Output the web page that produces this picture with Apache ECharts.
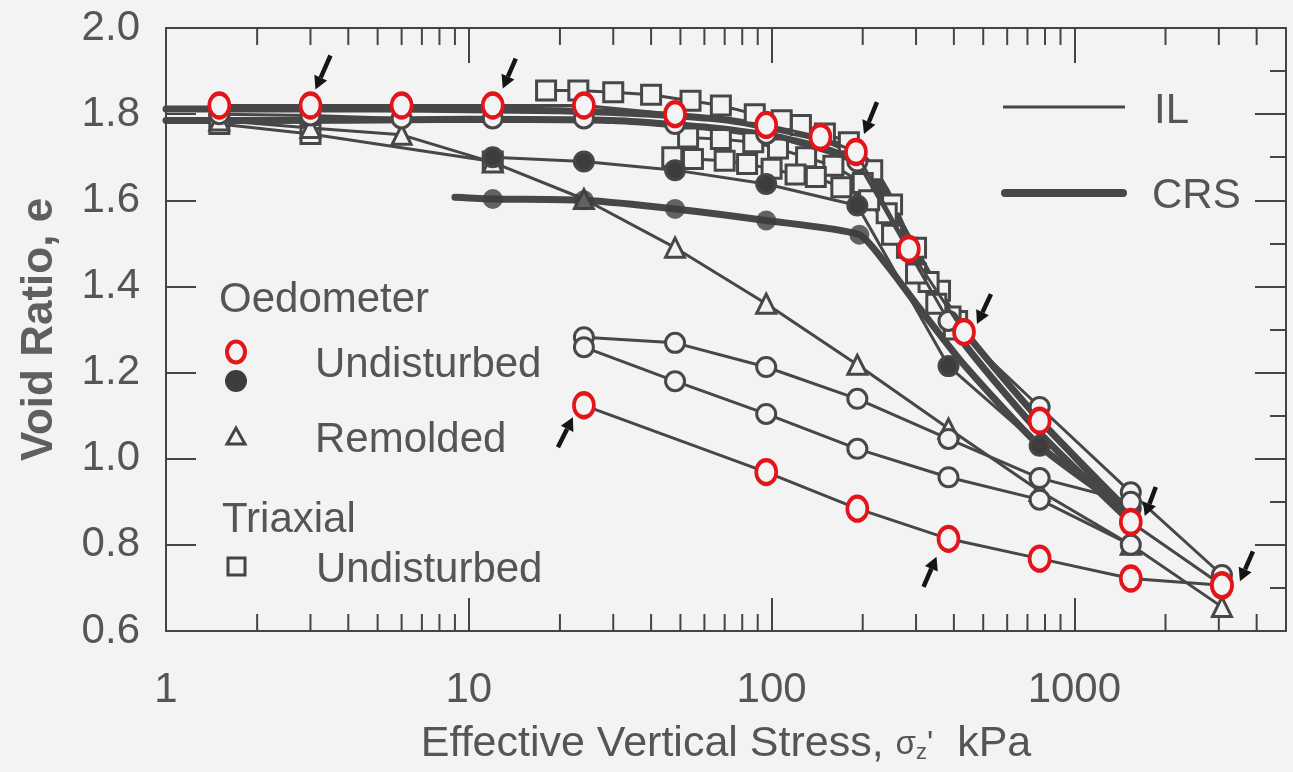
<!DOCTYPE html>
<html>
<head>
<meta charset="utf-8">
<title>Void ratio vs effective vertical stress</title>
<script src="https://cdn.jsdelivr.net/npm/echarts@6.0.0/dist/echarts.min.js"></script>
<style>
  html, body { margin: 0; padding: 0; background: #f3f3f3; }
  #chart { width: 1293px; height: 772px; }
</style>
</head>
<body>
<div id="chart"></div>
<script>
// ---- data (stress in kPa, void ratio e) ----
// Oedometer IL, undisturbed, highlighted (red) points
const ilRedStress = [1.5, 3, 6, 12, 24, 48, 96, 145, 190, 284, 432, 768, 1536, 3072]
const ilRedVoid = [1.82, 1.82, 1.82, 1.82, 1.82, 1.80, 1.775, 1.747, 1.712, 1.487, 1.294, 1.088, 0.853, 0.706]

// Oedometer IL, undisturbed, open circles
const ilOpenStress = [1.5, 3, 6, 12, 24, 48, 96, 192, 384, 768, 1536, 3072]
const ilOpenVoid = [1.80, 1.797, 1.79, 1.79, 1.79, 1.777, 1.754, 1.69, 1.32, 1.12, 0.922, 0.73]

// Oedometer IL, undisturbed, filled circles
const ilFillStress = [12, 24, 48, 96, 192, 384, 768, 1536]
const ilFillVoid = [1.70, 1.69, 1.67, 1.638, 1.588, 1.215, 1.03, 0.885]

// lower IL tests (open circles) and highlighted lower test
const ilLowAStress = [24, 48, 96, 192, 384, 768, 1536]
const ilLowAVoid = [1.282, 1.269, 1.213, 1.139, 1.046, 0.955, 0.90]
const ilLowBStress = [24, 48, 96, 192, 384, 768, 1536]
const ilLowBVoid = [1.259, 1.18, 1.104, 1.023, 0.957, 0.905, 0.80]
const ilRedLowStress = [24, 96, 192, 384, 768, 1536, 3072]
const ilRedLowVoid = [1.124, 0.969, 0.884, 0.814, 0.768, 0.722, 0.706]

// Oedometer IL, remolded
const remStress = [1.5, 3, 6, 12, 24, 48, 96, 192, 384, 768, 1536, 3072]
const remVoid = [1.785, 1.768, 1.752, 1.688, 1.603, 1.49, 1.36, 1.218, 1.07, 0.925, 0.80, 0.656]

// CRS tests (thick lines)
const crsTopStress = [1, 5, 10, 20, 40, 70, 100, 150, 200, 240, 290, 430, 768, 1500]
const crsTopVoid = [1.812, 1.812, 1.81, 1.808, 1.80, 1.787, 1.768, 1.74, 1.70, 1.62, 1.49, 1.30, 1.09, 0.88]
const crsMidStress = [1, 4, 10, 30, 60, 100, 150, 200, 240, 290, 430, 768, 1500]
const crsMidVoid = [1.785, 1.786, 1.788, 1.785, 1.77, 1.75, 1.72, 1.68, 1.60, 1.47, 1.27, 1.06, 0.86]
const crsLowStress = [9, 12, 24, 48, 96, 195, 240, 300, 430, 768, 1500]
const crsLowVoid = [1.607, 1.603, 1.60, 1.58, 1.553, 1.52, 1.45, 1.36, 1.22, 1.03, 0.88]
const crsLowPtStress = [12, 24, 48, 96, 195]
const crsLowPtVoid = [1.603, 1.60, 1.58, 1.553, 1.52]

// Triaxial, undisturbed (squares)
const triLowStress = [1.5, 3, 12]
const triLowVoid = [1.777, 1.754, 1.69]
const triAStress = [18, 23, 30, 40, 54, 68, 88, 108, 125, 150, 180, 215, 250, 300, 360, 410]
const triAVoid = [1.855, 1.855, 1.851, 1.845, 1.831, 1.82, 1.80, 1.786, 1.775, 1.755, 1.735, 1.67, 1.59, 1.49, 1.39, 1.32]
const triBStress = [53, 68, 87, 105, 130, 160, 200, 240, 280, 330, 390]
const triBVoid = [1.746, 1.742, 1.735, 1.72, 1.70, 1.68, 1.64, 1.57, 1.49, 1.41, 1.33]
const triCStress = [47, 55, 70, 83, 100, 120, 140, 170, 210, 250, 300, 350, 400]
const triCVoid = [1.70, 1.696, 1.692, 1.684, 1.673, 1.66, 1.654, 1.63, 1.60, 1.52, 1.43, 1.36, 1.30]

// axis ticks
const minorTicks = [2, 3, 4, 5, 6, 7, 8, 9, 20, 30, 40, 50, 60, 70, 80, 90,
  200, 300, 400, 500, 600, 700, 800, 900, 2000, 3000, 4000]

const FONT = 'Liberation Sans, Arial, Helvetica, sans-serif'
const BG = '#f3f3f3'
const AX = '#444'
const LINE = '#474747'
const TXT = '#555'
const RED = '#e3151b'

const pts = (xs, ys) => xs.map((x, i) => [x, ys[i]])

const symStyle = (fill) => ({ color: fill, borderColor: LINE, borderWidth: 3 })

function ilLine(name, xs, ys, symbol, fill, z) {
  return {
    name, type: 'line', data: pts(xs, ys), z: z || 3,
    symbol: symbol, symbolSize: symbol === 'none' ? 0 : 19,
    showSymbol: symbol !== 'none',
    lineStyle: { color: LINE, width: 3 },
    itemStyle: symStyle(fill)
  }
}

function crsLine(name, xs, ys) {
  return {
    name, type: 'line', data: pts(xs, ys), z: 2,
    showSymbol: false, smooth: 0.2,
    lineStyle: { color: LINE, width: 7, cap: 'round' }
  }
}

const chart = echarts.init(document.getElementById('chart'))

const option = {
  animation: false,
  backgroundColor: BG,
  textStyle: { fontFamily: FONT },
  grid: { left: 166, right: 7, top: 28, bottom: 141, containLabel: false, outerBoundsMode: 'none' },
  xAxis: [
    {
      type: 'log', logBase: 10, min: 1, max: 5000, position: 'bottom',
      axisLine: { show: true, lineStyle: { color: AX, width: 2 } },
      axisTick: { inside: true, length: 33, lineStyle: { color: AX, width: 2 } },
      axisLabel: { fontSize: 42, color: TXT, margin: 38, fontFamily: FONT, showMaxLabel: false,
        formatter: v => String(Math.round(v)) },
      splitLine: { show: false },
      name: "{a|Effective Vertical Stress, }{g|σ}{z|z}{g|'}{a|  kPa}",
      nameLocation: 'middle', nameGap: 92,
      nameTextStyle: {
        fontFamily: FONT,
        rich: {
          a: { fontSize: 43, color: TXT, fontFamily: FONT },
          g: { fontSize: 33, color: TXT, fontFamily: FONT },
          z: { fontSize: 22, color: TXT, fontFamily: FONT, padding: [16, 0, 0, 0] }
        }
      }
    },
    {
      type: 'log', logBase: 10, min: 1, max: 5000, position: 'top',
      axisLine: { show: true, lineStyle: { color: AX, width: 2 } },
      axisTick: { inside: true, length: 35, lineStyle: { color: AX, width: 2 } },
      axisLabel: { show: false },
      splitLine: { show: false }
    }
  ],
  yAxis: [
    {
      type: 'value', min: 0.6, max: 2.0, interval: 0.2, position: 'left',
      axisLine: { show: true, lineStyle: { color: AX, width: 2 } },
      axisTick: { inside: true, length: 30, lineStyle: { color: AX, width: 2 } },
      axisLabel: { fontSize: 42, color: TXT, margin: 26, fontFamily: FONT,
        formatter: v => v.toFixed(1) },
      splitLine: { show: false },
      name: 'Void Ratio, e', nameLocation: 'middle', nameGap: 104,
      nameTextStyle: { fontSize: 44, color: '#5f5f5f', fontFamily: FONT, fontWeight: 'bold' }
    },
    {
      type: 'value', min: 0.6, max: 2.0, interval: 0.1, position: 'right',
      axisLine: { show: true, lineStyle: { color: AX, width: 2 } },
      axisTick: { inside: true, length: 16, lineStyle: { color: AX, width: 2 } },
      axisLabel: { show: false }, splitLine: { show: false }
    },
    {
      type: 'value', min: 0.6, max: 2.0, interval: 0.2, position: 'right',
      axisLine: { show: false },
      axisTick: { inside: true, length: 31, lineStyle: { color: AX, width: 2 } },
      axisLabel: { show: false }, splitLine: { show: false }
    }
  ],
  series: [
    {
      name: 'minor ticks', type: 'custom', silent: true, z: 1,
      data: minorTicks.map(v => [v, 0.6]),
      encode: { x: 0, y: 1 },
      renderItem: (params, api) => {
        const v = api.value(0)
        const b = api.coord([v, 0.6])
        const t = api.coord([v, 2.0])
        const st = { stroke: AX, lineWidth: 2 }
        return {
          type: 'group',
          children: [
            { type: 'line', shape: { x1: b[0], y1: b[1], x2: b[0], y2: b[1] - 17 }, style: st },
            { type: 'line', shape: { x1: t[0], y1: t[1], x2: t[0], y2: t[1] + 17 }, style: st }
          ]
        }
      }
    },
    crsLine('CRS top', crsTopStress, crsTopVoid),
    crsLine('CRS mid', crsMidStress, crsMidVoid),
    crsLine('CRS low', crsLowStress, crsLowVoid),
    ilLine('Triaxial low', triLowStress, triLowVoid, 'rect', BG),
    ilLine('Triaxial A', triAStress, triAVoid, 'rect', BG),
    ilLine('Triaxial B', triBStress, triBVoid, 'rect', BG),
    ilLine('Triaxial C', triCStress, triCVoid, 'rect', BG),
    ilLine('Remolded', remStress, remVoid, 'triangle', BG, 4),
    ilLine('IL filled', ilFillStress, ilFillVoid, 'circle', '#3d3d3d', 4),
    {
      name: 'CRS points', type: 'scatter', z: 4, data: pts(crsLowPtStress, crsLowPtVoid),
      symbol: 'circle', symbolSize: 20, itemStyle: { color: '#3d3d3d' }
    },
    ilLine('IL open', ilOpenStress, ilOpenVoid, 'circle', BG, 4),
    ilLine('IL low A', ilLowAStress, ilLowAVoid, 'circle', BG, 4),
    ilLine('IL low B', ilLowBStress, ilLowBVoid, 'circle', BG, 4),
    {
      name: 'IL red low', type: 'line', z: 6, data: pts(ilRedLowStress, ilRedLowVoid),
      symbol: 'circle', symbolSize: [20, 24],
      lineStyle: { color: LINE, width: 3 },
      itemStyle: { color: BG, borderColor: RED, borderWidth: 4 }
    },
    {
      name: 'IL red', type: 'line', z: 7, data: pts(ilRedStress, ilRedVoid),
      symbol: 'circle', symbolSize: [20, 24],
      lineStyle: { color: LINE, width: 3 },
      itemStyle: { color: BG, borderColor: RED, borderWidth: 4 }
    }
  ]
}

chart.setOption(option)

// in-plot legend
const txt = (text, x, y) => ({
  type: 'text', z: 20,
  style: { text, x, y, fill: TXT, fontSize: 42, fontFamily: FONT, verticalAlign: 'middle', align: 'left' }
})
const legendEls = [
  txt('Oedometer', 219, 300),
  { type: 'ellipse', z: 20, shape: { cx: 236, cy: 352, rx: 9, ry: 10.5 }, style: { fill: BG, stroke: RED, lineWidth: 4 } },
  { type: 'circle', z: 20, shape: { cx: 236, cy: 381, r: 11 }, style: { fill: '#3d3d3d' } },
  txt('Undisturbed', 315, 365),
  { type: 'polygon', z: 20, shape: { points: [[236, 428], [227, 444], [245, 444]] }, style: { fill: BG, stroke: AX, lineWidth: 3 } },
  txt('Remolded', 315, 440),
  txt('Triaxial', 222, 520),
  { type: 'rect', z: 20, shape: { x: 228, y: 558, width: 17, height: 17 }, style: { fill: BG, stroke: AX, lineWidth: 3 } },
  txt('Undisturbed', 316, 570),
  { type: 'line', z: 20, shape: { x1: 1003, y1: 107, x2: 1125, y2: 107 }, style: { stroke: LINE, lineWidth: 3 } },
  txt('IL', 1154, 111),
  { type: 'line', z: 20, shape: { x1: 1005, y1: 193, x2: 1123, y2: 193 }, style: { stroke: LINE, lineWidth: 8, lineCap: 'round' } },
  txt('CRS', 1152, 196)
]

// arrows pointing at highlighted points: [series, point index, tail dx, tail dy, head dx, head dy]
const arrowDefs = [
  ['red', 1, 20, -50, 5, -16],
  ['red', 3, 23, -47, 10, -17],
  ['red', 8, 21, -50, 8, -18],
  ['red', 10, 27, -38, 13, -8],
  ['red', 12, 25, -35, 14, -6],
  ['red', 13, 31, -34, 18, -4],
  ['low', 0, -26, 42, -11, 12],
  ['low', 3, -25, 48, -12, 18]
]

function arrowEls() {
  const els = []
  arrowDefs.forEach(([src, i, tx, ty, hx, hy]) => {
    const p = src === 'red' ? [ilRedStress[i], ilRedVoid[i]] : [ilRedLowStress[i], ilRedLowVoid[i]]
    const c = chart.convertToPixel({ xAxisIndex: 0, yAxisIndex: 0 }, p)
    const x1 = c[0] + tx, y1 = c[1] + ty, x2 = c[0] + hx, y2 = c[1] + hy
    const len = Math.hypot(x2 - x1, y2 - y1)
    const ux = (x2 - x1) / len, uy = (y2 - y1) / len
    const bx = x2 - ux * 13, by = y2 - uy * 13
    els.push({ type: 'line', z: 21, shape: { x1, y1, x2: bx, y2: by }, style: { stroke: '#151515', lineWidth: 4.5 } })
    els.push({
      type: 'polygon', z: 21,
      shape: { points: [[x2, y2], [bx - uy * 7, by + ux * 7], [bx + uy * 7, by - ux * 7]] },
      style: { fill: '#151515' }
    })
  })
  return els
}

chart.setOption({ graphic: { elements: legendEls.concat(arrowEls()) } })
</script>
</body>
</html>
